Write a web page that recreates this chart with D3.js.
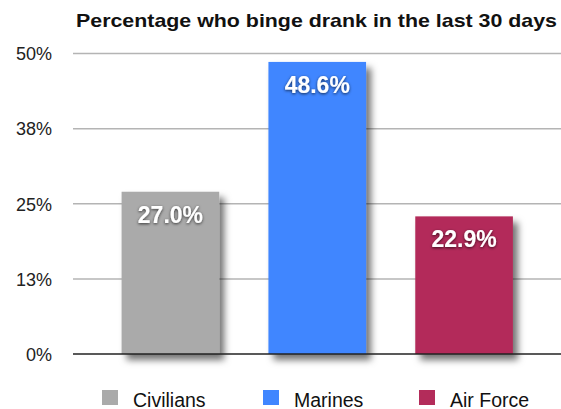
<!DOCTYPE html>
<html>
<head>
<meta charset="utf-8">
<script src="https://cdn.jsdelivr.net/npm/d3@7"></script>
<style>
  body { margin: 0; background: #fff; }
  svg { display: block; font-family: "Liberation Sans", Arial, Helvetica, sans-serif; }
</style>
</head>
<body>
<svg id="chart"></svg>
<script>
// chart data
const categories = ['Civilians', 'Marines', 'Air Force'];
const values = [27.0, 48.6, 22.9];
const colors = ['#aaaaaa', '#4086ff', '#b32c5a'];
const tickValues = [0, 12.5, 25, 37.5, 50];
const tickLabels = ['0%', '13%', '25%', '38%', '50%'];
const title = 'Percentage who binge drank in the last 30 days';

const W = 561, H = 409;
const svg = d3.select('#chart').attr('width', W).attr('height', H);

// filters for bar shadows and label glow
const defs = svg.append('defs');
defs.append('filter').attr('id', 'barShadow')
	.attr('x', '-20%').attr('y', '-20%').attr('width', '150%').attr('height', '150%')
	.append('feDropShadow')
	.attr('dx', 5).attr('dy', 6).attr('stdDeviation', 3.5)
	.attr('flood-color', '#000').attr('flood-opacity', 0.55);
defs.append('filter').attr('id', 'textShadow')
	.attr('x', '-20%').attr('y', '-40%').attr('width', '140%').attr('height', '180%')
	.append('feDropShadow')
	.attr('dx', 0).attr('dy', 1).attr('stdDeviation', 1.5)
	.attr('flood-color', '#000').attr('flood-opacity', 0.7);

const y = d3.scaleLinear().domain([0, 50]).range([354, 53.5]);
const x = d3.scaleBand().domain(categories)
	.range([97, 537.5])
	.paddingInner(0.335)
	.paddingOuter(0.1675);

// title - stretched to the same span as the original (76..557)
svg.append('text')
	.attr('x', 76).attr('y', 27)
	.attr('font-size', 19).attr('font-weight', 'bold').attr('fill', '#111')
	.attr('textLength', 481).attr('lengthAdjust', 'spacingAndGlyphs')
	.text(title);

// grid + y labels
const yAxis = d3.axisLeft(y)
	.tickValues(tickValues)
	.tickFormat((d, i) => tickLabels[i])
	.tickSize(0).tickPadding(0);

const gy = svg.append('g').attr('transform', 'translate(52,0)').call(yAxis);
gy.select('.domain').remove();
gy.selectAll('text').attr('font-size', 18).attr('fill', '#222').attr('dy', '0.35em')
	.attr('font-family', '"Liberation Sans", Arial, sans-serif');

svg.append('g').selectAll('line')
	.data(tickValues.filter(d => d > 0))
	.enter().append('line')
	.attr('x1', 73).attr('x2', W)
	.attr('y1', d => y(d)).attr('y2', d => y(d))
	.attr('stroke', '#b4b4b4').attr('stroke-width', 1.5);

// bars
svg.append('g').selectAll('rect')
	.data(values)
	.enter().append('rect')
	.attr('x', (d, i) => x(categories[i]))
	.attr('y', d => y(d))
	.attr('width', x.bandwidth())
	.attr('height', d => y(0) - y(d))
	.attr('fill', (d, i) => colors[i])
	.attr('filter', 'url(#barShadow)');

// baseline
svg.append('line')
	.attr('x1', 73).attr('x2', W)
	.attr('y1', y(0)).attr('y2', y(0))
	.attr('stroke', '#222').attr('stroke-width', 1.5);

// value labels
svg.append('g').selectAll('text')
	.data(values)
	.enter().append('text')
	.attr('x', (d, i) => x(categories[i]) + x.bandwidth() / 2)
	.attr('y', d => y(d) + 31)
	.attr('text-anchor', 'middle')
	.attr('font-size', 23).attr('font-weight', 'bold')
	.attr('fill', '#fff')
	.attr('filter', 'url(#textShadow)')
	.text(d => d.toFixed(1) + '%');

// legend
const legendX = [102, 263, 419];
const lg = svg.append('g').selectAll('g')
	.data(categories)
	.enter().append('g')
	.attr('transform', (d, i) => 'translate(' + legendX[i] + ',390)');
lg.append('rect')
	.attr('width', 16).attr('height', 15)
	.attr('fill', (d, i) => colors[i]);
lg.append('text')
	.attr('x', 31).attr('y', 16.5)
	.attr('font-size', 19.5).attr('fill', '#111')
	.text(d => d);
</script>
</body>
</html>
